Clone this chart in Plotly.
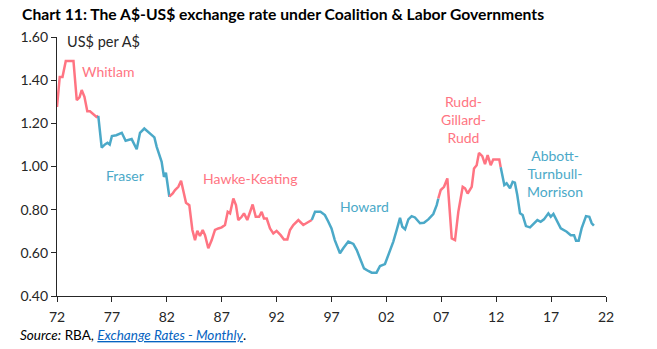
import plotly.graph_objects as go

# ---- data (decimal years, US$ per A$) ----
years = [
    1972.0, 1972.25, 1972.5, 1972.8, 1973.5, 1973.8, 1974.05, 1974.25, 1974.5, 1974.76,
    1975.0, 1975.3, 1975.46, 1975.6, 1975.76,
    1976.07, 1976.37, 1976.6, 1976.8, 1977.0, 1977.4, 1977.9, 1978.25, 1978.55, 1978.8,
    1979.26, 1979.56, 1979.95, 1980.3, 1980.6, 1980.87, 1981.08, 1981.38, 1981.53, 1981.74,
    1981.92, 1982.23,
    1982.54, 1982.75, 1983.05, 1983.3, 1983.5, 1983.75, 1984.05, 1984.33, 1984.57, 1984.78,
    1985.02, 1985.27, 1985.48, 1985.78, 1986.09, 1986.39, 1986.69, 1987.0, 1987.3, 1987.55,
    1987.76, 1988.06, 1988.3, 1988.51, 1988.82, 1989.03, 1989.33, 1989.58, 1989.82, 1990.1,
    1990.4, 1990.64, 1990.85, 1991.1, 1991.4, 1991.7, 1992.0, 1992.37, 1992.67, 1992.98,
    1993.22, 1993.52, 1993.98, 1994.43, 1994.89, 1995.2,
    1995.5, 1996.0, 1996.4, 1996.7, 1997.0, 1997.3, 1997.77, 1998.07, 1998.53, 1998.99,
    1999.3, 1999.6, 1999.96, 2000.35, 2000.66, 2001.1, 2001.42, 2001.87, 2002.17, 2002.63,
    2002.94, 2003.24, 2003.45, 2003.7, 2004.0, 2004.3, 2004.6, 2005.06, 2005.42, 2005.82,
    2006.27, 2006.58, 2006.73,
    2006.95, 2007.25, 2007.55, 2007.95, 2008.25, 2008.55, 2008.95, 2009.16, 2009.4, 2009.77,
    2009.98, 2010.22, 2010.43, 2010.73, 2010.98, 2011.22, 2011.5, 2011.73, 2012.04, 2012.28,
    2012.41,
    2012.59, 2012.74, 2012.95, 2013.26, 2013.5, 2013.7, 2013.92, 2014.17, 2014.41, 2014.71,
    2015.08, 2015.44, 2015.75, 2016.05, 2016.35, 2016.75, 2016.97, 2017.21, 2017.57, 2017.88,
    2018.42, 2018.79, 2019.09, 2019.27, 2019.51, 2019.78, 2020.18, 2020.48, 2020.7, 2020.9,
]
rate = [
    1.276, 1.415, 1.415, 1.489, 1.489, 1.307, 1.320, 1.354, 1.323, 1.256,
    1.256, 1.245, 1.238, 1.230, 1.235,
    1.087, 1.102, 1.110, 1.102, 1.141, 1.145, 1.156, 1.119, 1.122, 1.127,
    1.080, 1.156, 1.176, 1.161, 1.145, 1.135, 1.091, 1.048, 1.022, 0.952,
    0.971, 0.860,
    0.875, 0.891, 0.906, 0.934, 0.883, 0.832, 0.821, 0.706, 0.659, 0.702,
    0.678, 0.706, 0.682, 0.621, 0.659, 0.706, 0.713, 0.718, 0.729, 0.790,
    0.783, 0.852, 0.821, 0.752, 0.767, 0.783, 0.752, 0.790, 0.824, 0.767,
    0.767, 0.790, 0.759, 0.759, 0.713, 0.690, 0.702, 0.682, 0.662, 0.662,
    0.706, 0.729, 0.752, 0.729, 0.744, 0.752,
    0.790, 0.790, 0.775, 0.745, 0.713, 0.659, 0.598, 0.621, 0.652, 0.641,
    0.613, 0.574, 0.528, 0.516, 0.508, 0.508, 0.539, 0.548, 0.590, 0.652,
    0.706, 0.762, 0.721, 0.709, 0.755, 0.770, 0.764, 0.737, 0.739, 0.755,
    0.780, 0.821, 0.852,
    0.891, 0.906, 0.945, 0.667, 0.659, 0.790, 0.906, 0.899, 0.875, 0.906,
    0.991, 1.006, 1.063, 1.048, 1.011, 1.053, 1.006, 1.033, 1.033, 1.033,
    0.996,
    0.952, 0.914, 0.922, 0.899, 0.929, 0.925, 0.868, 0.783, 0.775, 0.724,
    0.718, 0.737, 0.752, 0.744, 0.755, 0.783, 0.767, 0.780, 0.744, 0.713,
    0.698, 0.682, 0.682, 0.656, 0.656, 0.713, 0.770, 0.767, 0.737, 0.726,
]

# governments: name, party, first year, last year (as positioned in the chart)
gov_names = ["Whitlam", "Fraser", "Hawke-Keating", "Howard", "Rudd-Gillard-Rudd", "Abbott-Turnbull-Morrison"]
gov_party = ["Labor", "Coalition", "Labor", "Coalition", "Labor", "Coalition"]
gov_start = [1972.0, 1975.76, 1982.23, 1995.2, 2006.73, 2012.41]
gov_end = [1975.76, 1982.23, 1995.2, 2006.73, 2012.41, 2020.9]
gov_label = ["Whitlam", "Fraser", "Hawke-Keating", "Howard", "Rudd-<br>Gillard-<br>Rudd", "Abbott-<br>Turnbull-<br>Morrison"]
gov_label_x = [1976.64, 1978.15, 1989.58, 1999.96, 2008.98, 2017.35]
gov_label_y = [1.442, 0.960, 0.946, 0.817, 1.219, 0.969]

x_ticks = [1972, 1977, 1982, 1987, 1992, 1997, 2002, 2007, 2012, 2017, 2022]
x_tick_text = ["72", "77", "82", "87", "92", "97", "02", "07", "12", "17", "22"]
y_ticks = [0.4, 0.6, 0.8, 1.0, 1.2, 1.4, 1.6]
y_tick_text = ["0.40", "0.60", "0.80", "1.00", "1.20", "1.40", "1.60"]

RED = "#FF7482"
BLUE = "#4BA9C8"
party_color = {"Labor": RED, "Coalition": BLUE}
FONT = "Lato"

fig = go.Figure()
for name, party, s, e in zip(gov_names, gov_party, gov_start, gov_end):
    xs = [x for x in years if s - 1e-9 <= x <= e + 1e-9]
    ys = [r for x, r in zip(years, rate) if s - 1e-9 <= x <= e + 1e-9]
    fig.add_trace(go.Scatter(x=xs, y=ys, mode="lines", name=name,
                             line=dict(color=party_color[party], width=2.5),
                             showlegend=False, hoverinfo="skip"))

for lab, party, lx, ly in zip(gov_label, gov_party, gov_label_x, gov_label_y):
    fig.add_annotation(x=lx, y=ly, xref="x", yref="y", text=lab, showarrow=False,
                       font=dict(family=FONT, size=14, color=party_color[party]),
                       align="center")

fig.add_annotation(x=1972.73, y=1.58, xref="x", yref="y", text="US$ per A$",
                   showarrow=False, xanchor="left",
                   font=dict(family=FONT, size=14.5, color="#262626"))

fig.add_annotation(x=-0.0674, y=1.089, xref="paper", yref="paper",
                   text="<b>Chart 11: The A$-US$ exchange rate under Coalition &amp; Labor Governments</b>",
                   showarrow=False, xanchor="left", yanchor="middle",
                   font=dict(family=FONT, size=15.7, color="#000000"))

fig.add_annotation(x=-0.071, y=-0.151, xref="paper", yref="paper",
                   text="<i>Source:</i> RBA, <span style='color:#0563C1;text-decoration:underline'><i>Exchange Rates - Monthly</i></span>.",
                   showarrow=False, xanchor="left", yanchor="middle",
                   font=dict(family=FONT, size=13.5, color="#000000"))

axis_font = dict(family=FONT, size=14, color="#262626")
fig.update_layout(
    width=657, height=349,
    margin=dict(l=57, r=51, t=37, b=53),
    paper_bgcolor="white", plot_bgcolor="white",
    xaxis=dict(range=[1972, 2022], tickvals=x_ticks, ticktext=x_tick_text,
               showgrid=False, zeroline=False, showline=True, linecolor="#262626", linewidth=1.2,
               ticks="outside", ticklen=5, tickcolor="#262626", tickfont=axis_font,
               ticklabelstandoff=3),
    yaxis=dict(range=[0.4, 1.6], tickvals=y_ticks, ticktext=y_tick_text,
               showgrid=False, zeroline=False, showline=True, linecolor="#262626", linewidth=1.2,
               ticks="outside", ticklen=5, tickcolor="#262626", tickfont=axis_font),
)

fig.write_html("out.html")
